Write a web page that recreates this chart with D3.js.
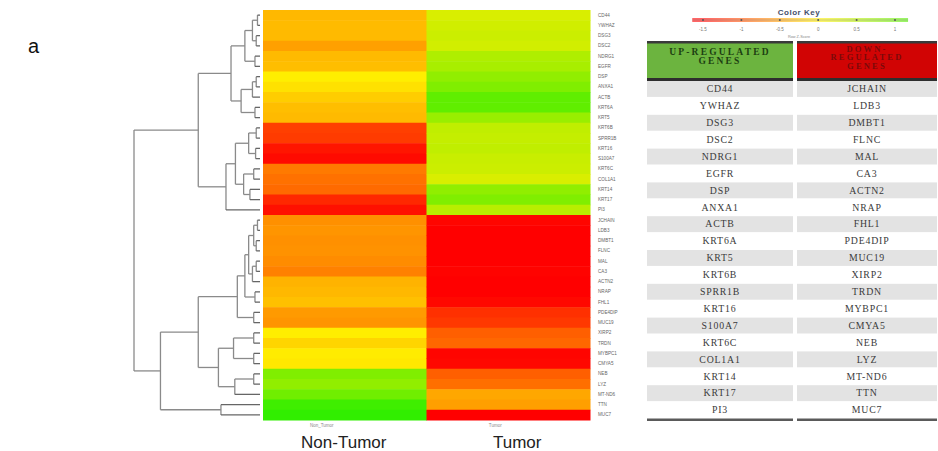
<!DOCTYPE html>
<html><head><meta charset="utf-8">
<script src="https://cdn.jsdelivr.net/npm/d3@7"></script>
<style>html,body{margin:0;padding:0;background:#fff;}svg{display:block;}</style>
</head><body>
<svg id="chart" width="938" height="451"></svg>
<script>
// ---------------- DATA ----------------
const upGenes = ["CD44","YWHAZ","DSG3","DSC2","NDRG1","EGFR","DSP","ANXA1","ACTB","KRT6A",
  "KRT5","KRT6B","SPRR1B","KRT16","S100A7","KRT6C","COL1A1","KRT14","KRT17","PI3"];
const downGenes = ["JCHAIN","LDB3","DMBT1","FLNC","MAL","CA3","ACTN2","NRAP","FHL1","PDE4DIP",
  "MUC19","XIRP2","TRDN","MYBPC1","CMYA5","NEB","LYZ","MT-ND6","TTN","MUC7"];
const samples = ["Non_Tumor","Tumor"];
const groupLabels = ["Non-Tumor","Tumor"];
const nonTumorValues = [-0.34,-0.32,-0.33,-0.49,-0.33,-0.30,0.0,-0.08,-0.21,-0.30,
  -0.33,-1.10,-1.13,-1.37,-1.44,-0.73,-0.79,-0.83,-1.25,-1.40,
  -0.59,-0.56,-0.59,-0.58,-0.62,-0.69,-0.37,-0.34,-0.29,-0.53,
  -0.56,0.0,-0.16,-0.01,-0.04,0.86,0.75,0.97,1.30,1.40];
const tumorValues = [0.26,0.32,0.35,0.31,0.54,0.59,0.75,0.86,1.08,1.08,
  0.69,0.43,0.40,0.43,0.37,0.35,0.26,0.75,0.86,0.48,
  -1.47,-1.50,-1.50,-1.50,-1.50,-1.48,-1.50,-1.50,-1.45,-1.20,
  -1.15,-0.90,-0.85,-1.47,-1.45,-0.90,-0.80,-0.45,-0.50,-1.50];
const keyTicks = [-1.5,-1,-0.5,0,0.5,1];
const keyTickLabels = ["-1.5","-1","-0.5","0","0.5","1"];
const keyRange = [-1.64,1.17];
// row dendrogram: internal nodes {h, c:[left,right]}, leaves = gene names
const dendro = {h:10, c:[
  {h:4.9, c:[
    {h:2.3, c:[
      {h:1.2, c:[
        {h:0.6, c:[{h:0.2,c:["CD44","YWHAZ"]},{h:0.3,c:["DSG3","DSC2"]}]},
        {h:0.4, c:["NDRG1","EGFR"]}]},
      {h:1.5, c:[
        {h:0.6, c:[{h:0.3,c:["DSP","ANXA1"]},"ACTB"]},
        {h:0.4, c:["KRT6A","KRT5"]}]}]},
    {h:2.7, c:[
      {h:1.95, c:[
        {h:0.9, c:[{h:0.3,c:["KRT6B","SPRR1B"]},{h:0.35,c:["KRT16","S100A7"]}]},
        {h:1.3, c:[{h:0.5,c:["KRT6C","COL1A1"]},{h:0.8,c:["KRT14","KRT17"]}]}]},
      "PI3"]}]},
  {h:7.9, c:[
    {h:4.9, c:[
      {h:1.8, c:[
        {h:1.2, c:[
          {h:0.9, c:[
            {h:0.5, c:[{h:0.2,c:["JCHAIN","LDB3"]},{h:0.3,c:["DMBT1","FLNC"]}]},
            {h:0.6, c:[{h:0.3,c:["MAL","CA3"]},"ACTN2"]}]},
          {h:0.4, c:["NRAP","FHL1"]}]},
        {h:0.5, c:["PDE4DIP","MUC19"]}]},
      {h:3.3, c:[
        {h:2.1, c:[{h:0.5,c:["XIRP2","TRDN"]},{h:0.5,c:["MYBPC1","CMYA5"]}]},
        {h:2.0, c:[{h:0.5,c:["NEB","LYZ"]},"MT-ND6"]}]}]},
    {h:3.1, c:["TTN","MUC7"]}]}]};

// ---------------- DRAW ----------------
const genes = upGenes.concat(downGenes);
const svg = d3.select("#chart");
const color = d3.scaleLinear().domain([-1.5,0,1.5]).range(["#ff0000","#ffee00","#22ee00"]).clamp(true);

const x = d3.scaleBand().domain(samples).range([263,590]);
const y = d3.scaleBand().domain(genes).range([10,420]);
const values = {Non_Tumor: nonTumorValues, Tumor: tumorValues};

// figure tag
svg.append("text").attr("x",28).attr("y",53).attr("font-family","Liberation Sans, Arial, sans-serif")
  .attr("font-size",20).attr("fill","#111").text("a");

// heatmap cells
const cells = [];
samples.forEach(s => genes.forEach((g,i) => cells.push({s, g, v: values[s][i]})));
svg.append("g").selectAll("rect").data(cells).join("rect")
  .attr("x", d => x(d.s)).attr("y", d => y(d.g))
  .attr("width", x.bandwidth()+0.5).attr("height", y.bandwidth()+0.5)
  .attr("fill", d => color(d.v));

// row labels
svg.append("g").selectAll("text").data(genes).join("text")
  .attr("x", 598).attr("y", d => y(d) + y.bandwidth()/2 + 1.6)
  .attr("font-family","Liberation Sans, Arial, sans-serif").attr("font-size",4.6)
  .attr("fill","#666").text(d => d);

// small column labels
svg.append("g").selectAll("text").data(samples).join("text")
  .attr("x", d => x(d) + x.bandwidth()/2 - (d==="Non_Tumor"?23:13)).attr("y", 427)
  .attr("text-anchor","middle").attr("font-family","Liberation Sans, Arial, sans-serif")
  .attr("font-size",4.5).attr("fill","#888").text(d => d);
// big group labels
svg.append("g").selectAll("text").data(samples).join("text")
  .attr("x", d => x(d) + x.bandwidth()/2 + (d==="Non_Tumor"?-1:9)).attr("y", 448)
  .attr("text-anchor","middle").attr("font-family","Liberation Sans, Arial, sans-serif")
  .attr("font-size",17).attr("fill","#222").text((d,i) => groupLabels[i]);

// dendrogram
const xh = d3.scaleLinear().domain([0,10]).range([260,134]);
const dg = svg.append("g").attr("fill","none").attr("stroke","#8a8a8a").attr("stroke-width",1.3);
function layout(node){
  if (typeof node === "string") return {y: y(node)+y.bandwidth()/2, h: 0};
  const kids = node.c.map(layout);
  const yy = (kids[0].y + kids[kids.length-1].y)/2;
  dg.append("line").attr("x1",xh(node.h)).attr("x2",xh(node.h))
    .attr("y1",kids[0].y).attr("y2",kids[kids.length-1].y);
  kids.forEach(k => dg.append("line").attr("x1",xh(node.h)).attr("x2",xh(k.h))
    .attr("y1",k.y).attr("y2",k.y).attr("stroke", k.h===0 ? "#666" : null));
  return {y: yy, h: node.h};
}
layout(dendro);

// color key
const kx = d3.scaleLinear().domain([keyTicks[0], keyTicks[keyTicks.length-1]]).range([703,895]);
const defs = svg.append("defs");
const grad = defs.append("linearGradient").attr("id","kg").attr("x1","0%").attr("x2","100%");
d3.range(0,1.0001,0.05).forEach(t => {
  const v = keyRange[0] + t*(keyRange[1]-keyRange[0]);
  grad.append("stop").attr("offset", (t*100)+"%").attr("stop-color", color(v));
});
svg.append("rect").attr("x",kx(keyRange[0])).attr("y",18).attr("width",kx(keyRange[1])-kx(keyRange[0]))
  .attr("height",4).attr("fill","url(#kg)").attr("opacity",0.6);
svg.append("line").attr("x1",kx(keyRange[0])).attr("x2",kx(keyRange[1])).attr("y1",20).attr("y2",20)
  .attr("stroke","#777").attr("stroke-width",0.5).attr("opacity",0.6);
svg.append("g").selectAll("circle").data(keyTicks).join("circle")
  .attr("cx", d => kx(d)).attr("cy",20).attr("r",1).attr("fill","#555");
svg.append("g").selectAll("text").data(keyTicks).join("text")
  .attr("x", d => kx(d)).attr("y",31).attr("text-anchor","middle")
  .attr("font-family","Liberation Sans, Arial, sans-serif").attr("font-size",4.5).attr("fill","#777")
  .text((d,i) => keyTickLabels[i]);
svg.append("text").attr("x",799).attr("y",15).attr("text-anchor","middle")
  .attr("font-family","Liberation Sans, Arial, sans-serif").attr("font-size",8).attr("font-weight","bold")
  .attr("fill","#44506a").attr("letter-spacing",0.5).text("Color Key");
svg.append("text").attr("x",799).attr("y",37.5).attr("text-anchor","middle")
  .attr("font-family","Liberation Sans, Arial, sans-serif").attr("font-size",3.8).attr("fill","#888")
  .text("Row Z-Score");

// table
const cols = [
  {x0:647, x1:793, fill:"#6cb43f", tcol:"#1d3f12", head:["UP-REGULATED","GENES"], top:54.5, lh:9.5, fs:9.5, genes: upGenes},
  {x0:797, x1:937, fill:"#d10404", tcol:"#7a0a0a", head:["DOWN-","REGULATED","GENES"], top:51.5, lh:8.8, fs:8.5, genes: downGenes}
];
const ty = d3.scaleBand().domain(d3.range(20)).range([80,418]);
cols.forEach(c => {
  const g = svg.append("g");
  const cx = (c.x0+c.x1)/2;
  g.append("rect").attr("x",c.x0).attr("y",42).attr("width",c.x1-c.x0).attr("height",38).attr("fill",c.fill);
  g.append("rect").attr("x",c.x0).attr("y",41).attr("width",c.x1-c.x0).attr("height",2.5).attr("fill","#3a3a3a");
  g.append("rect").attr("x",c.x0).attr("y",78).attr("width",c.x1-c.x0).attr("height",3).attr("fill","#2e2e2e");
  c.head.forEach((t,i) => g.append("text").attr("x",cx).attr("y",c.top + i*c.lh).attr("text-anchor","middle")
    .attr("font-family","Liberation Serif, Times New Roman, serif").attr("font-size",c.fs)
    .attr("font-weight","bold").attr("letter-spacing",2.2).attr("fill",c.tcol).text(t));
  g.selectAll("rect.band").data(c.genes).join("rect").attr("class","band")
    .attr("x",c.x0).attr("y",(d,i) => ty(i)+1).attr("width",c.x1-c.x0).attr("height",ty.bandwidth()-1)
    .attr("fill",(d,i) => i%2===0 ? "#e3e3e3" : "#ffffff");
  g.selectAll("text.gene").data(c.genes).join("text").attr("class","gene")
    .attr("x",cx).attr("y",(d,i) => ty(i)+ty.bandwidth()/2+3.8)
    .attr("text-anchor","middle").attr("font-family","Liberation Serif, Times New Roman, serif")
    .attr("font-size",9.8).attr("letter-spacing",0.8).attr("fill","#3a3a3a").text(d => d);
  g.append("rect").attr("x",c.x0).attr("y",418.5).attr("width",c.x1-c.x0).attr("height",2.5).attr("fill","#5a5a5a");
});
</script>
</body></html>
